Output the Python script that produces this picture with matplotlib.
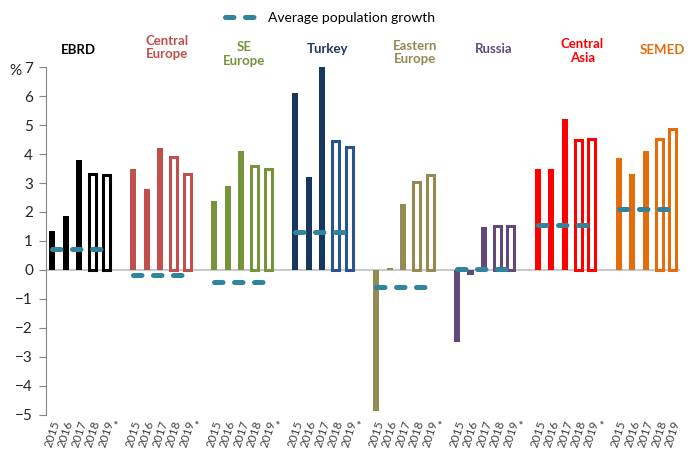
import matplotlib.pyplot as plt
import matplotlib.transforms as mtransforms
from matplotlib.lines import Line2D

plt.rcParams['font.family'] = ['Lato', 'DejaVu Sans']

# data
groups = ['EBRD', 'Central\nEurope', 'SE\nEurope', 'Turkey', 'Eastern\nEurope',
          'Russia', 'Central\nAsia', 'SEMED']
years = ['2015', '2016', '2017', '2018', '2019']
ebrd = [1.35, 1.87, 3.8, 3.32, 3.27]
central_europe = [3.5, 2.8, 4.2, 3.9, 3.32]
se_europe = [2.38, 2.9, 4.1, 3.6, 3.5]
turkey = [6.1, 3.2, 7.0, 4.45, 4.23]
eastern_europe = [-4.85, 0.08, 2.27, 3.03, 3.28]
russia = [-2.5, -0.18, 1.47, 1.52, 1.52]
central_asia = [3.5, 3.5, 5.2, 4.48, 4.52]
semed = [3.87, 3.3, 4.1, 4.52, 4.86]
avg_growth = [0.74, -0.18, -0.41, 1.31, -0.58, 0.05, 1.55, 2.12]
values = [ebrd, central_europe, se_europe, turkey, eastern_europe,
          russia, central_asia, semed]

# style
solid_cols = ['#000000', '#C0504D', '#77933C', '#17375E', '#948A54',
              '#604A7B', '#FF0000', '#E46C0A']
hollow_cols = ['#000000', '#C0504D', '#77933C', '#2A5490', '#948A54',
               '#604A7B', '#FF0000', '#E46C0A']
label_cols = ['#000000', '#C0504D', '#77933C', '#1F3864', '#948A54',
              '#604A7B', '#FF0000', '#E46C0A']
label_x = [1.9, 8.5, 14.2, 20.4, 26.9, 32.7, 39.3, 45.2]
label_py = [49.5, 47.5, 54, 49, 52.5, 49, 51, 50.5]
line_col = '#31849B'

fig = plt.figure(figsize=(6.94, 4.5), dpi=100)
ax = fig.add_axes([0.0657, 0.078, 0.9135, 0.773])

ticklabels = []
for g, vals in enumerate(values):
    base = g * 6
    for i, v in enumerate(vals):
        x = base + i
        if i < 3:
            ax.bar(x, v, width=0.45, color=solid_cols[g], zorder=2)
        else:
            ax.bar(x, v, width=0.52, facecolor='white', edgecolor=hollow_cols[g],
                   linewidth=2.2, zorder=2)
    xs = [base + i for i in range(len(years))]
    ax.plot(xs, [avg_growth[g]] * len(xs), color=line_col, lw=3.6,
            dashes=(1.7, 2.3), dash_capstyle='round', zorder=3)
    ticklabels += years
    if g < len(groups) - 1:
        ticklabels.append('*')

ax.axhline(0, color='#BFBFBF', lw=1.2, zorder=1)
ax.set_xlim(-0.5, len(ticklabels) - 0.5)
ax.set_ylim(-5, 7)
ax.set_yticks(range(-5, 8))
ax.set_xticks(range(len(ticklabels)))
ax.set_xticklabels(ticklabels, rotation=72, fontsize=8.5, color='#404040',
                   ha='center', va='top')
ax.tick_params(axis='x', length=0, pad=3)
ax.tick_params(axis='y', length=5, color='#868686', labelsize=11,
               labelcolor='#262626', pad=4)
for s in ['top', 'right', 'bottom']:
    ax.spines[s].set_visible(False)
ax.spines['left'].set_color('#868686')

trans = mtransforms.blended_transform_factory(ax.transData, fig.transFigure)
for g, name in enumerate(groups):
    ax.text(label_x[g], 1 - label_py[g] / 450, name, transform=trans,
            ha='center', va='center', fontsize=9.5, fontweight='bold',
            color=label_cols[g], linespacing=1.15, clip_on=False)

fig.text(0.014, 1 - 71 / 450, '%', fontsize=11, color='#262626', va='center')

handle = Line2D([], [], color=line_col, lw=3.6, dashes=(1.7, 2.3),
                dash_capstyle='round')
fig.legend([handle], ['Average population growth'], loc='center',
           bbox_to_anchor=(0.475, 1 - 18 / 450), frameon=False, fontsize=10,
           handlelength=2.6, handletextpad=0.5)

fig.savefig('out.png', dpi=100)
